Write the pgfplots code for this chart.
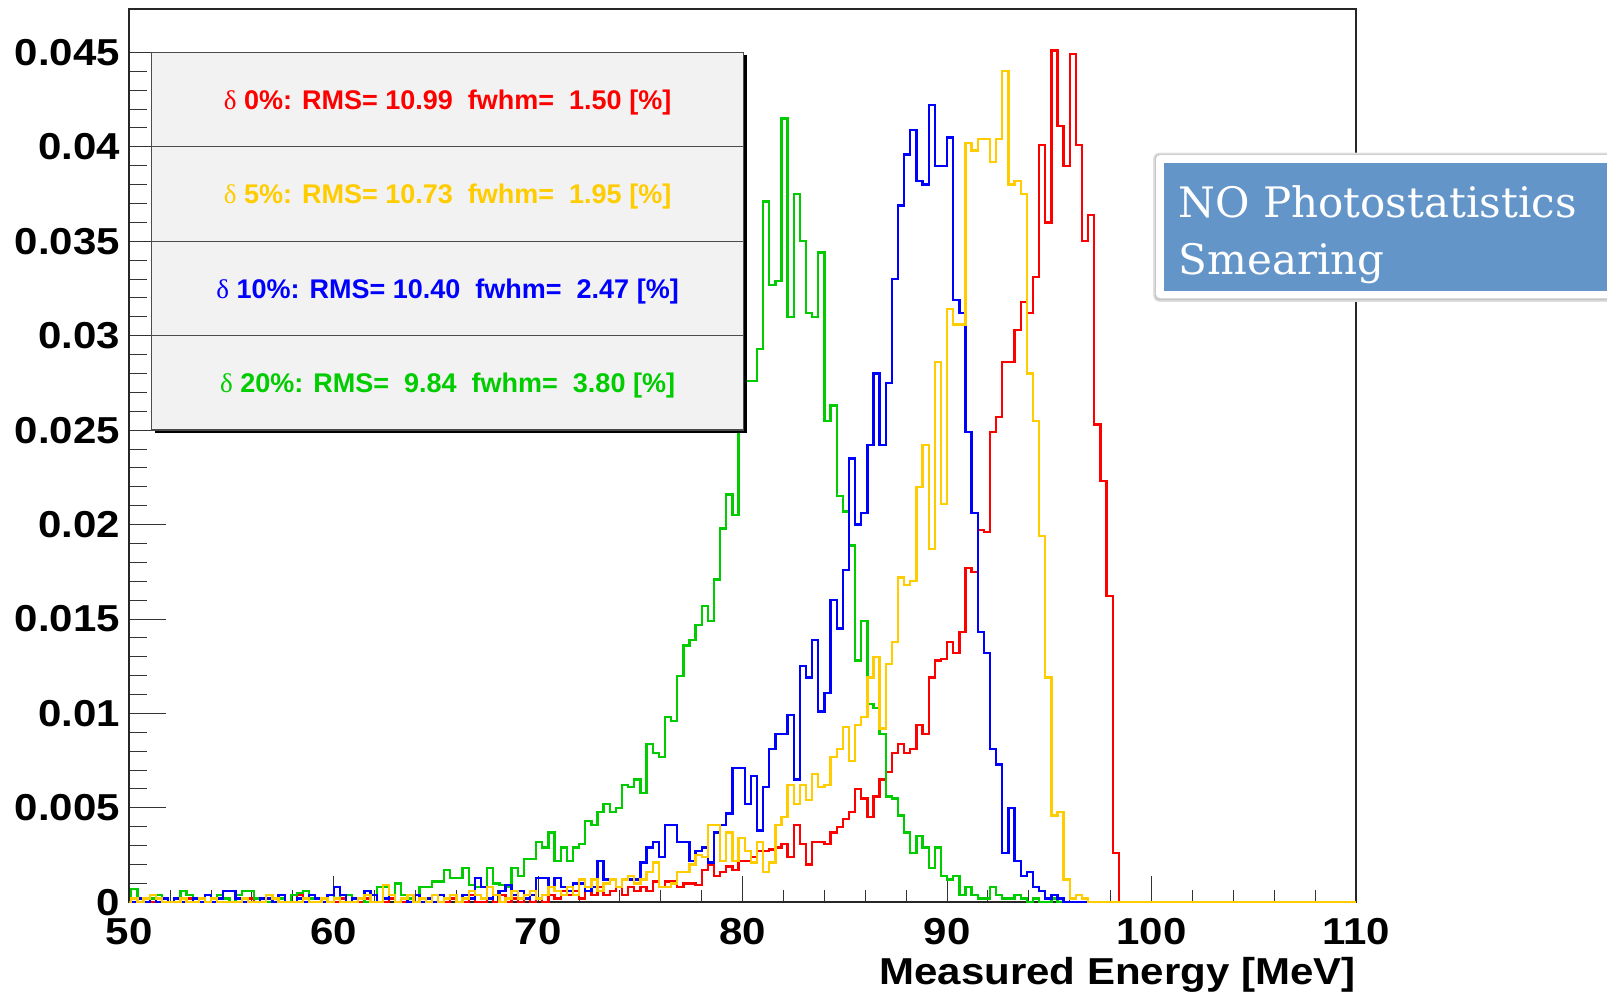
\documentclass[border=0pt]{standalone}
\usepackage{pgfplots}
\pgfplotsset{compat=1.18}
\usepackage{fontspec}
\setmainfont{Liberation Sans}
\newfontfamily\tickfont{Liberation Sans}[FakeStretch=1.12]
\newfontfamily\greekfont{Liberation Serif}
\newfontfamily\boxfont{DejaVu Serif}
\definecolor{rgreen}{RGB}{0,204,0}
\definecolor{ryellow}{RGB}{255,204,0}
\definecolor{boxblue}{RGB}{99,149,201}
\definecolor{legfill}{RGB}{242,242,242}
\newcommand{\dl}{{\greekfont\mdseries δ}}
\begin{document}
\begin{tikzpicture}
\useasboundingbox (0,0) rectangle (803.5pt,498.5pt);
\begin{axis}[
  at={(64.65pt,47.35pt)}, anchor=south west, scale only axis,
  width=613.35pt, height=446.65pt,
  xmin=50, xmax=110, ymin=0, ymax=0.0473,
  axis line style={line width=0.9pt, black!85},
  xtick={50,60,70,80,90,100,110},
  xticklabels={50,60,70,80,90,100,110},
  ytick={0,0.005,0.01,0.015,0.02,0.025,0.03,0.035,0.04,0.045},
  yticklabels={0,0.005,0.01,0.015,0.02,0.025,0.03,0.035,0.04,0.045},
  scaled y ticks=false,
  minor x tick num=4, minor y tick num=4,
  xtick pos=bottom, ytick pos=left, tick align=inside,
  xtick style={line width=0.5pt, black!80, /pgfplots/major tick length=13pt, /pgfplots/minor tick length=6.2pt},
  ytick style={line width=0.5pt, black!80, /pgfplots/major tick length=18.5pt, /pgfplots/minor tick length=8.7pt},
  tick label style={font=\tickfont\bfseries\fontsize{18.75}{20}\selectfont},
  xticklabel style={inner sep=0pt, anchor=north, yshift=-8pt},
  yticklabel style={inner sep=0pt, anchor=east, xshift=-4.5pt},
  xlabel={Measured Energy [MeV]},
  xlabel style={at={(axis description cs:1,0)}, anchor=base east, yshift=-40.85pt, inner sep=0pt, font=\tickfont\bfseries\fontsize{18.75}{20}\selectfont},
]
% delta 0% (red)
\addplot[const plot, red, line width=1.15pt] table {
x y
50.0 0
50.7 0.0002
51.0 0
51.6 0.0002
51.9 0
52.8 0.0002
53.1 0
53.4 0.0002
53.7 0
55.8 0.0002
56.1 0
57.3 0.0002
57.6 0
58.2 0.0004
58.5 0
59.4 0.0002
59.7 0
60.3 0.0002
60.6 0
61.5 0.0002
61.8 0
62.7 0.0002
63.0 0
63.6 0.0002
63.9 0
64.5 0.0002
64.8 0
65.7 0.0002
66.0 0
66.6 0.0004
66.9 0
67.5 0.0002
67.8 0
68.1 0.0004
68.4 0
68.7 0.0002
69.0 0
69.3 0.0004
69.6 0
69.9 0.0002
70.2 0
70.5 0.0004
70.8 0.0002
71.1 0.0006
71.4 0.0004
71.7 0.0006
72.0 0.0002
72.3 0.0006
72.6 0.0004
72.9 0.0008
73.2 0.0004
73.5 0.0006
73.8 0.0008
74.1 0.0004
74.4 0.0008
74.7 0.0006
75.0 0.0008
75.3 0.0006
75.6 0.0011
75.9 0.0008
76.2 0.0011
76.5 0.0011
76.8 0.0008
77.1 0.0010
77.4 0.0010
77.7 0.0009
78.0 0.0017
78.3 0.0020
78.6 0.0014
78.9 0.0016
79.2 0.0019
79.5 0.0017
79.8 0.0022
80.1 0.0022
80.4 0.0024
80.7 0.0027
81.0 0.0027
81.3 0.0028
81.6 0.0029
81.9 0.0031
82.2 0.0024
82.5 0.0041
82.8 0.0031
83.1 0.0020
83.4 0.0032
83.7 0.0032
84.0 0.0031
84.3 0.0037
84.6 0.0040
84.9 0.0044
85.2 0.0048
85.5 0.0060
85.8 0.0055
86.1 0.0045
86.4 0.0056
86.7 0.0065
87.0 0.0069
87.3 0.0079
87.6 0.0084
87.9 0.0079
88.2 0.0081
88.5 0.0094
88.8 0.0089
89.1 0.0119
89.4 0.0128
89.7 0.0129
90.0 0.0138
90.3 0.0132
90.6 0.0143
90.9 0.0177
91.2 0.0175
91.5 0.0197
91.8 0.0196
92.1 0.0249
92.4 0.0257
92.7 0.0286
93.0 0.0286
93.3 0.0303
93.6 0.0318
93.9 0.0312
94.2 0.0331
94.5 0.0401
94.8 0.0360
95.1 0.0451
95.4 0.0411
95.7 0.0390
96.0 0.0449
96.3 0.0401
96.6 0.0350
96.9 0.0364
97.2 0.0253
97.5 0.0223
97.8 0.0162
98.1 0.0026
98.4 0
110.0 0
};
% delta 20% (green)
\addplot[const plot, rgreen, line width=1.15pt] table {
x y
50.0 0
50.1 0.0007
50.4 0.0002
50.7 0
51.0 0.0002
51.3 0.0004
51.6 0
52.2 0.0002
52.5 0.0006
52.8 0.0004
53.1 0.0002
53.4 0.0002
53.7 0
54.0 0.0002
54.3 0.0004
54.6 0.0002
54.9 0
55.2 0.0004
55.5 0.0006
55.8 0.0006
56.1 0.0002
56.4 0
57.0 0.0002
57.3 0.0002
57.6 0
57.9 0.0004
58.2 0.0005
58.5 0.0006
58.8 0.0002
59.1 0.0002
59.4 0
59.7 0.0004
60.0 0.0002
60.3 0.0004
60.6 0.0004
60.9 0.0002
61.2 0.0002
61.5 0
61.8 0.0004
62.1 0.0008
62.4 0.0008
62.7 0.0004
63.0 0.0010
63.3 0.0004
63.6 0.0002
63.9 0.0004
64.2 0.0008
64.5 0.0008
64.8 0.0011
65.1 0.0011
65.4 0.0017
65.7 0.0013
66.0 0.0013
66.3 0.0018
66.6 0.0009
66.9 0.0008
67.2 0.0008
67.5 0.0018
67.8 0.0010
68.1 0.0009
68.4 0.0008
68.7 0.0018
69.0 0.0014
69.3 0.0023
69.6 0.0023
69.9 0.0032
70.2 0.0029
70.5 0.0037
70.8 0.0022
71.1 0.0029
71.4 0.0022
71.7 0.0029
72.0 0.0031
72.3 0.0043
72.6 0.0041
72.9 0.0048
73.2 0.0052
73.5 0.0048
73.8 0.0050
74.1 0.0062
74.4 0.0061
74.7 0.0065
75.0 0.0058
75.3 0.0084
75.6 0.0079
75.9 0.0077
76.2 0.0098
76.5 0.0096
76.8 0.0120
77.1 0.0136
77.4 0.0139
77.7 0.0147
78.0 0.0157
78.3 0.0149
78.6 0.0171
78.9 0.0198
79.2 0.0216
79.5 0.0205
79.8 0.0262
80.1 0.0276
80.4 0.0276
80.7 0.0293
81.0 0.0371
81.3 0.0327
81.6 0.0329
81.9 0.0415
82.2 0.0310
82.5 0.0375
82.8 0.0350
83.1 0.0312
83.4 0.0310
83.7 0.0344
84.0 0.0255
84.3 0.0263
84.6 0.0215
84.9 0.0207
85.2 0.0189
85.5 0.0128
85.8 0.0149
86.1 0.0105
86.4 0.0103
86.7 0.0089
87.0 0.0056
87.3 0.0055
87.6 0.0046
87.9 0.0037
88.2 0.0026
88.5 0.0035
88.8 0.0029
89.1 0.0018
89.4 0.0029
89.7 0.0014
90.0 0.0012
90.3 0.0014
90.6 0.0004
90.9 0.0008
91.2 0.0004
91.5 0.0002
91.8 0.0002
92.1 0.0008
92.4 0.0004
92.7 0.0002
93.0 0.0002
93.3 0.0004
93.6 0.0002
93.9 0
94.2 0.0002
94.5 0
95.1 0.0002
95.4 0
110.0 0
};
% delta 10% (blue)
\addplot[const plot, blue, line width=1.15pt] table {
x y
50.0 0
50.4 0.0002
50.7 0
51.0 0.0004
51.3 0
51.6 0.0002
51.9 0
52.2 0.0002
52.5 0
53.1 0.0002
53.4 0
53.7 0.0004
54.0 0
54.3 0.0002
54.6 0.0006
54.9 0.0006
55.2 0.0002
55.5 0
56.4 0.0002
56.7 0.0002
57.0 0
57.3 0.0004
57.6 0
58.2 0.0002
58.5 0
58.8 0.0004
59.1 0.0002
59.4 0
59.7 0.0004
60.0 0.0008
60.3 0.0004
60.6 0
60.9 0.0002
61.2 0.0002
61.5 0.0006
61.8 0.0004
62.1 0
62.4 0.0002
62.7 0.0004
63.0 0
63.3 0.0002
63.6 0
63.9 0.0004
64.2 0
64.5 0.0002
64.8 0
65.1 0.0004
65.4 0.0002
65.7 0.0004
66.0 0
66.3 0.0004
66.6 0.0002
66.9 0.0013
67.2 0.0008
67.5 0.0002
67.8 0.0004
68.1 0.0006
68.4 0.0009
68.7 0.0004
69.0 0.0006
69.3 0.0002
69.6 0.0004
69.9 0.0013
70.2 0.0013
70.5 0.0008
70.8 0.0013
71.1 0.0008
71.4 0.0006
71.7 0.0010
72.0 0.0010
72.3 0.0006
72.6 0.0008
72.9 0.0022
73.2 0.0012
73.5 0.0012
73.8 0.0008
74.1 0.0012
74.4 0.0012
74.7 0.0012
75.0 0.0021
75.3 0.0029
75.6 0.0032
75.9 0.0024
76.2 0.0041
76.5 0.0041
76.8 0.0032
77.1 0.0032
77.4 0.0022
77.7 0.0027
78.0 0.0029
78.3 0.0021
78.6 0.0037
78.9 0.0041
79.2 0.0047
79.5 0.0071
79.8 0.0071
80.1 0.0052
80.4 0.0067
80.7 0.0038
81.0 0.0061
81.3 0.0081
81.6 0.0089
81.9 0.0089
82.2 0.0099
82.5 0.0065
82.8 0.0125
83.1 0.0119
83.4 0.0139
83.7 0.0101
84.0 0.0111
84.3 0.0160
84.6 0.0145
84.9 0.0176
85.2 0.0235
85.5 0.0200
85.8 0.0206
86.1 0.0242
86.4 0.0280
86.7 0.0242
87.0 0.0275
87.3 0.0330
87.6 0.0369
87.9 0.0396
88.2 0.0409
88.5 0.0382
88.8 0.0380
89.1 0.0422
89.4 0.0390
89.7 0.0390
90.0 0.0405
90.3 0.0319
90.6 0.0312
90.9 0.0249
91.2 0.0206
91.5 0.0143
91.8 0.0132
92.1 0.0081
92.4 0.0073
92.7 0.0026
93.0 0.0050
93.3 0.0022
93.6 0.0014
93.9 0.0016
94.2 0.0008
94.5 0.0006
94.8 0.0002
95.1 0.0004
95.4 0.0002
95.7 0
110.0 0
};
% delta 5% (yellow)
\addplot[const plot, ryellow, line width=1.15pt] table {
x y
50.0 0
50.1 0.0002
50.4 0
50.7 0.0002
51.0 0.0004
51.3 0.0002
51.6 0
52.5 0.0002
52.8 0
53.4 0.0002
53.7 0
54.0 0.0002
54.3 0
55.5 0.0002
55.8 0
56.7 0.0004
57.0 0.0002
57.3 0
58.5 0.0002
58.8 0
59.4 0.0002
59.7 0
60.0 0.0002
60.3 0
61.2 0.0002
61.5 0.0004
61.8 0
62.4 0.0009
62.7 0.0004
63.0 0
63.3 0.0002
63.6 0.0004
63.9 0
64.2 0.0002
64.5 0
64.8 0.0004
65.1 0
65.4 0.0002
65.7 0.0004
66.0 0
66.3 0.0002
66.6 0.0006
66.9 0.0004
67.2 0.0002
67.5 0.0008
67.8 0.0004
68.1 0
68.4 0.0002
68.7 0.0006
69.0 0.0002
69.3 0.0004
69.6 0.0006
69.9 0.0002
70.2 0.0004
70.5 0.0008
70.8 0.0006
71.1 0.0004
71.4 0.0008
71.7 0.0004
72.0 0.0012
72.3 0.0008
72.6 0.0012
72.9 0.0006
73.2 0.0010
73.5 0.0012
73.8 0.0008
74.1 0.0012
74.4 0.0014
74.7 0.0010
75.0 0.0012
75.3 0.0016
75.6 0.0021
75.9 0.0008
76.2 0.0008
76.5 0.0010
76.8 0.0016
77.1 0.0016
77.4 0.0020
77.7 0.0025
78.0 0.0024
78.3 0.0041
78.6 0.0041
78.9 0.0022
79.2 0.0037
79.5 0.0022
79.8 0.0034
80.1 0.0027
80.4 0.0021
80.7 0.0032
81.0 0.0016
81.3 0.0021
81.6 0.0041
81.9 0.0045
82.2 0.0062
82.5 0.0052
82.8 0.0062
83.1 0.0054
83.4 0.0068
83.7 0.0061
84.0 0.0062
84.3 0.0077
84.6 0.0081
84.9 0.0093
85.2 0.0075
85.5 0.0094
85.8 0.0098
86.1 0.0119
86.4 0.0130
86.7 0.0092
87.0 0.0126
87.3 0.0138
87.6 0.0172
87.9 0.0168
88.2 0.0170
88.5 0.0220
88.8 0.0242
89.1 0.0187
89.4 0.0286
89.7 0.0211
90.0 0.0314
90.3 0.0306
90.6 0.0306
90.9 0.0402
91.2 0.0398
91.5 0.0404
91.8 0.0404
92.1 0.0392
92.4 0.0404
92.7 0.0440
93.0 0.0380
93.3 0.0382
93.6 0.0375
93.9 0.0280
94.2 0.0255
94.5 0.0194
94.8 0.0119
95.1 0.0046
95.4 0.0048
95.7 0.0012
96.0 0.0002
96.3 0.0004
96.6 0.0002
96.9 0
110.0 0
};
\end{axis}
% legend box (ROOT style with shadow)
\fill[black] (77.35pt,282pt) rectangle (373.25pt,470.75pt);
\filldraw[fill=legfill, draw=black!70, line width=0.6pt] (75.85pt,283.5pt) rectangle (371.75pt,472.25pt);
\draw[black!70, line width=0.6pt] (75.85pt,425.06pt) -- (371.75pt,425.06pt);
\draw[black!70, line width=0.6pt] (75.85pt,377.87pt) -- (371.75pt,377.87pt);
\draw[black!70, line width=0.6pt] (75.85pt,330.69pt) -- (371.75pt,330.69pt);
\begin{scope}[every node/.style={anchor=base, inner sep=0pt, font=\bfseries\fontsize{13.5}{15}\selectfont}]
\node[text=red] at (223.8pt,443.8pt) {\dl\ 0\%: RMS= 10.99~~fwhm=~~1.50 [\%]};
\node[text=ryellow] at (223.8pt,396.6pt) {\dl\ 5\%: RMS= 10.73~~fwhm=~~1.95 [\%]};
\node[text=blue] at (223.8pt,349.4pt) {\dl\ 10\%: RMS= 10.40~~fwhm=~~2.47 [\%]};
\node[text=rgreen] at (223.8pt,302.2pt) {\dl\ 20\%: RMS=~~9.84~~fwhm=~~3.80 [\%]};
\end{scope}
% blue annotation box with white frame and soft shadow
\fill[black!12, rounded corners=3pt] (576.6pt,347.6pt) rectangle (830pt,422.2pt);
\fill[black!22, rounded corners=2pt] (577.4pt,348.3pt) rectangle (830pt,421.4pt);
\fill[white, rounded corners=2pt] (578pt,349.35pt) rectangle (830pt,421pt);
\fill[boxblue] (582pt,353.15pt) rectangle (830pt,417.15pt);
\node[anchor=base west, inner sep=0pt, text=white, font=\boxfont\fontsize{21}{24}\selectfont] at (589.15pt,389.85pt) {NO Photostatistics};
\node[anchor=base west, inner sep=0pt, text=white, font=\boxfont\fontsize{21}{24}\selectfont] at (589.15pt,361pt) {Smearing};
\end{tikzpicture}
\end{document}
